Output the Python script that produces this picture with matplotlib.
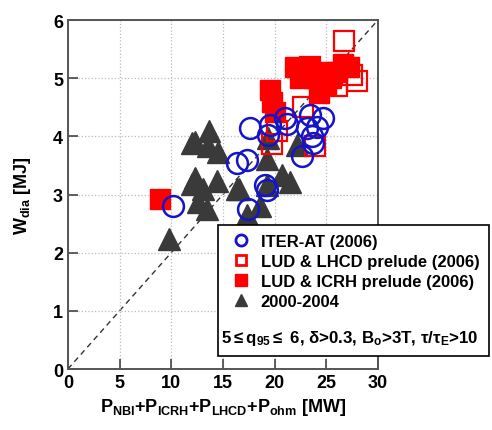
import numpy as np
import matplotlib.pyplot as plt
from matplotlib.lines import Line2D
from matplotlib.patches import Rectangle

plt.rcParams['font.family'] = ['Liberation Sans', 'DejaVu Sans']
plt.rcParams['font.weight'] = 'bold'
plt.rcParams['mathtext.fontset'] = 'custom'
plt.rcParams['mathtext.rm'] = 'Liberation Sans:bold'
plt.rcParams['mathtext.bf'] = 'Liberation Sans:bold'
plt.rcParams['mathtext.it'] = 'Liberation Sans:bold'

# ITER-AT (2006)
iter_x = [10.2, 16.4, 17.3, 17.4, 17.6, 19.1, 19.3, 19.4, 19.6, 21.0, 21.2,
          22.7, 23.1, 23.4, 23.6, 23.7, 24.1, 24.7]
iter_y = [2.81, 3.55, 3.60, 2.76, 4.14, 3.16, 3.07, 4.02, 4.19, 4.31, 4.22,
          3.66, 4.14, 4.36, 4.00, 3.88, 4.17, 4.31]

# LUD & LHCD prelude (2006)
lhcd_x = [26.7, 28.0, 26.0, 22.8, 23.4, 19.8, 23.9, 24.8, 27.5, 20.2]
lhcd_y = [5.64, 4.96, 4.86, 4.50, 5.20, 3.87, 3.84, 5.00, 5.05, 4.10]

# LUD & ICRH prelude (2006)
icrh_x = [8.9, 19.6, 19.8, 20.0, 22.0, 22.8, 23.3, 22.5, 23.8, 24.3, 25.0,
          25.5, 26.0, 26.6, 27.2, 24.6]
icrh_y = [2.93, 4.80, 4.60, 4.42, 5.20, 5.15, 5.20, 5.00, 5.00, 4.75, 4.90,
          5.00, 5.10, 5.25, 5.20, 5.10]

# 2000-2004
old_x = [9.8, 12.3, 13.7, 13.6, 14.5, 12.0, 12.3, 13.1, 14.4, 12.6, 13.5,
         16.4, 19.3, 19.4, 20.7, 22.2, 19.3, 17.3, 16.6, 18.6, 21.5, 12.0]
old_y = [2.24, 3.91, 4.10, 3.83, 3.74, 3.19, 3.28, 3.10, 3.24, 2.88, 2.76,
         3.10, 3.62, 3.97, 3.33, 3.85, 3.16, 2.64, 3.10, 2.81, 3.22, 3.88]

fig = plt.figure(figsize=(4.92, 4.31), dpi=100)
ax = fig.add_axes([0.138, 0.1415, 0.630, 0.8095])

ax.plot([0, 30], [0, 6], ls=(0, (4, 3)), color='#333333', lw=1.0, zorder=1)
ax.plot(old_x, old_y, '^', color='#3a3a3a', ms=16, ls='none', zorder=2)
ax.plot(icrh_x, icrh_y, 's', color='#ff0000', ms=15, ls='none', zorder=3)
ax.plot(lhcd_x, lhcd_y, 's', mfc='none', mec='#ff0000', mew=1.6, ms=15, ls='none', zorder=4)
ax.plot(iter_x, iter_y, 'o', mfc='none', mec='#1414c8', mew=1.8, ms=15, ls='none', zorder=5)

ax.set_xlim(0, 30)
ax.set_ylim(0, 6)
ax.set_xticks([0, 5, 10, 15, 20, 25, 30])
ax.set_yticks([0, 1, 2, 3, 4, 5, 6])
ax.grid(True, ls=':', color='#bbbbbb', lw=0.9)
ax.tick_params(direction='in', length=7, width=1.2, labelsize=13, color='#444444')
for lab in ax.get_xticklabels() + ax.get_yticklabels():
    lab.set_fontweight('bold')
for s in ax.spines.values():
    s.set_color('#555555')
    s.set_linewidth(1.4)

ax.set_xlabel(r'P$_{\mathbf{NBI}}$+P$_{\mathbf{ICRH}}$+P$_{\mathbf{LHCD}}$+P$_{\mathbf{ohm}}$ [MW]',
              fontsize=13, fontweight='bold', labelpad=4)
ax.set_ylabel(r'W$_{\mathbf{dia}}$ [MJ]', fontsize=13, fontweight='bold', labelpad=14)

# legend box
fig.patches.append(Rectangle((0.443, 0.172), 0.55, 0.304, transform=fig.transFigure,
                             facecolor='white', edgecolor='black', lw=1.2, zorder=10))
handles = [
    Line2D([], [], marker='o', ls='none', mfc='none', mec='#1414c8', mew=2, ms=8),
    Line2D([], [], marker='s', ls='none', mfc='none', mec='#ff0000', mew=2, ms=7),
    Line2D([], [], marker='s', ls='none', color='#ff0000', ms=8),
    Line2D([], [], marker='^', ls='none', color='#3a3a3a', ms=8),
]
labels = ['ITER-AT (2006)', 'LUD & LHCD prelude (2006)', 'LUD & ICRH prelude (2006)', '2000-2004']
leg = fig.legend(handles, labels, loc='upper left', bbox_to_anchor=(0.452, 0.479),
                 frameon=False, handlelength=1.0, handletextpad=0.7,
                 labelspacing=0.3, borderaxespad=0.2, prop={'weight': 'bold', 'size': 12})
leg.set_zorder(11)
fig.text(0.449, 0.205, r'5$\leq$q$_{95}$$\leq$ 6, $\delta$>0.3, B$_o$>3T, $\tau/\tau_E$>10',
         fontsize=12.2, fontweight='bold', zorder=12)

fig.savefig('out.png', dpi=100)
